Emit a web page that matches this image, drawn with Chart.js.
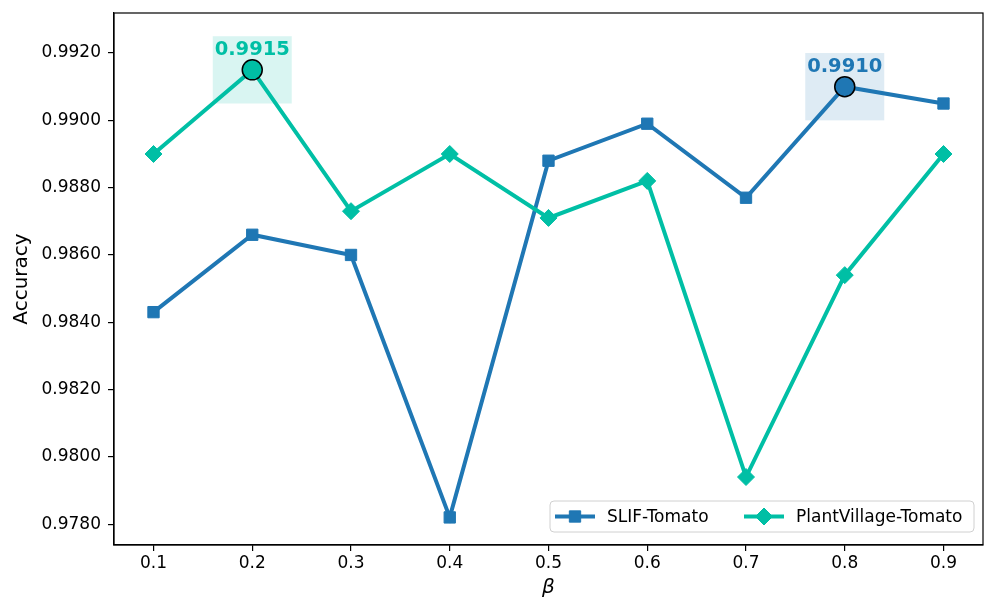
<!DOCTYPE html>
<html>
<head>
<meta charset="utf-8">
<script src="https://cdn.jsdelivr.net/npm/chart.js@4.4.0/dist/chart.umd.min.js"></script>
<style>
  html, body { margin: 0; padding: 0; background: #fff; }
  #wrap { width: 996px; height: 613px; }
</style>
</head>
<body>
<div id="wrap"><canvas id="chart"></canvas></div>
<script>
// data
const betas = [0.1, 0.2, 0.3, 0.4, 0.5, 0.6, 0.7, 0.8, 0.9];
const slifTomato = [0.9843, 0.9866, 0.9860, 0.9782, 0.9888, 0.9899, 0.9877, 0.9910, 0.9905];
const plantVillageTomato = [0.9890, 0.9915, 0.9873, 0.9890, 0.9871, 0.9882, 0.9794, 0.9854, 0.9890];
const yTicks = [0.9780, 0.9800, 0.9820, 0.9840, 0.9860, 0.9880, 0.9900, 0.9920];
const xTicks = [0.1, 0.2, 0.3, 0.4, 0.5, 0.6, 0.7, 0.8, 0.9];
const seriesNames = ["SLIF-Tomato", "PlantVillage-Tomato"];

const BLUE = "#1f77b4";
const TEAL = "#00bfa5";
const FONT = "'DejaVu Sans', sans-serif";

// best point of each series (highlighted)
function bestOf(values) {
  let i = 0;
  values.forEach((v, k) => { if (v > values[i]) i = k; });
  return { x: betas[i], y: values[i] };
}
const bestSlif = bestOf(slifTomato);
const bestPv = bestOf(plantVillageTomato);
const highlights = [
  { p: bestPv, color: TEAL, fill: "rgba(0,191,165,0.15)" },
  { p: bestSlif, color: BLUE, fill: "rgba(31,119,180,0.15)" },
];

const toXY = (vals) => vals.map((v, i) => ({ x: betas[i], y: v }));

const extras = {
  id: "extras",
  beforeDatasetsDraw(chart) {
    const { ctx, scales: { x, y } } = chart;
    ctx.save();
    highlights.forEach((h) => {
      const x0 = x.getPixelForValue(h.p.x - 0.04);
      const x1 = x.getPixelForValue(h.p.x + 0.04);
      const y0 = y.getPixelForValue(h.p.y + 0.001);
      const y1 = y.getPixelForValue(h.p.y - 0.001);
      ctx.fillStyle = h.fill;
      ctx.fillRect(x0, y0, x1 - x0, y1 - y0);
    });
    ctx.restore();
  },
  afterDatasetsDraw(chart) {
    const { ctx, scales: { x, y } } = chart;
    ctx.save();
    ctx.font = "bold 19.5px " + FONT;
    ctx.textAlign = "center";
    ctx.textBaseline = "middle";
    highlights.forEach((h) => {
      ctx.fillStyle = h.color;
      ctx.fillText(h.p.y.toFixed(4), x.getPixelForValue(h.p.x), y.getPixelForValue(h.p.y) - 20);
    });
    ctx.restore();
  },
  afterDraw(chart) {
    const { ctx, chartArea: a } = chart;
    ctx.save();
    // frame
    ctx.strokeStyle = "#000";
    ctx.lineWidth = 1.2;
    ctx.strokeRect(a.left, a.top, a.right - a.left, a.bottom - a.top);

    // legend, lower right inside the axes
    const bx = 550, by = 501, bw = 424, bh = 31;
    ctx.fillStyle = "rgba(255,255,255,0.8)";
    ctx.strokeStyle = "#d0d0d0";
    ctx.lineWidth = 1;
    ctx.beginPath();
    ctx.roundRect(bx, by, bw, bh, 4);
    ctx.fill();
    ctx.stroke();
    const cy = by + bh / 2;
    const items = [
      { name: seriesNames[0], color: BLUE, style: "rect", x: 555 },
      { name: seriesNames[1], color: TEAL, style: "rectRot", x: 744 },
    ];
    ctx.font = "17px " + FONT;
    ctx.textBaseline = "middle";
    items.forEach((it) => {
      ctx.strokeStyle = it.color;
      ctx.lineWidth = 4;
      ctx.beginPath();
      ctx.moveTo(it.x, cy);
      ctx.lineTo(it.x + 40, cy);
      ctx.stroke();
      ctx.fillStyle = it.color;
      ctx.lineWidth = 1;
      Chart.helpers.drawPoint(ctx, { pointStyle: it.style, radius: it.style === "rect" ? 8 : 8.5, borderWidth: 1 }, it.x + 20, cy);
      ctx.fillStyle = "#000";
      ctx.fillText(it.name, it.x + 52, cy + 1);
    });
    ctx.restore();
  },
};

new Chart(document.getElementById("chart"), {
  type: "line",
  data: {
    datasets: [
      {
        label: "best",
        data: [bestPv, bestSlif],
        showLine: false,
        pointStyle: "circle",
        pointRadius: 10,
        pointBackgroundColor: [TEAL, BLUE],
        pointBorderColor: "#000",
        pointBorderWidth: 1.5,
        order: 0,
      },
      {
        label: seriesNames[1],
        data: toXY(plantVillageTomato),
        borderColor: TEAL,
        backgroundColor: TEAL,
        borderWidth: 4,
        pointStyle: "rectRot",
        pointRadius: 8.5,
        pointBorderWidth: 1,
        tension: 0,
        order: 1,
      },
      {
        label: seriesNames[0],
        data: toXY(slifTomato),
        borderColor: BLUE,
        backgroundColor: BLUE,
        borderWidth: 4,
        pointStyle: "rect",
        pointRadius: 8,
        pointBorderWidth: 1,
        tension: 0,
        order: 2,
      },
    ],
  },
  options: {
    responsive: true,
    maintainAspectRatio: false,
    animation: false,
    layout: { padding: { top: 13, right: 13, left: 0, bottom: 0 } },
    plugins: { legend: { display: false }, tooltip: { enabled: false } },
    scales: {
      x: {
        type: "linear",
        min: 0.06,
        max: 0.94,
        afterBuildTicks: (s) => { s.ticks = xTicks.map((v) => ({ value: v })); },
        afterFit: (s) => { s.height = 68; s.paddingLeft = 0; s.paddingRight = 0; },
        grid: { drawOnChartArea: false, drawTicks: true, tickLength: 6, color: "#000", lineWidth: 1.2 },
        border: { color: "#000", width: 1.2 },
        ticks: { color: "#000", font: { family: FONT, size: 17 }, padding: 2, maxRotation: 0, callback: (v) => v.toFixed(1) },
        title: { display: true, text: "β", color: "#000", font: { family: FONT, size: 20, style: "italic" }, padding: { top: 0, bottom: 13 } },
      },
      y: {
        min: 0.97738,
        max: 0.99319,
        afterBuildTicks: (s) => { s.ticks = yTicks.map((v) => ({ value: v })); },
        afterFit: (s) => { s.width = 114; s.paddingTop = 0; s.paddingBottom = 0; },
        grid: { drawOnChartArea: false, drawTicks: true, tickLength: 6, color: "#000", lineWidth: 1.2 },
        border: { color: "#000", width: 1.2 },
        ticks: { color: "#000", font: { family: FONT, size: 17 }, padding: 7, callback: (v) => v.toFixed(4) },
        title: { display: true, text: "Accuracy", color: "#000", font: { family: FONT, size: 20 }, padding: { top: 10, bottom: 0 } },
      },
    },
  },
  plugins: [extras],
});
</script>
</body>
</html>
